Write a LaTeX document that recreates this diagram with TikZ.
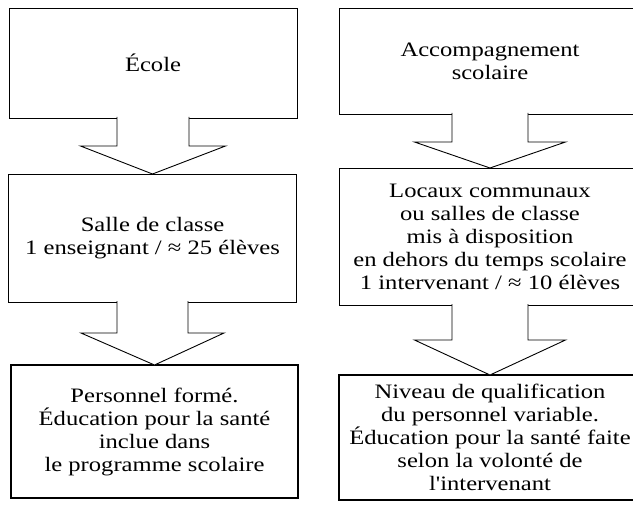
\documentclass[tikz,border=0pt]{standalone}
\usepackage{fontspec}
\setmainfont{Liberation Serif}[FakeStretch=1.2, Ligatures=TeXOff]
\usetikzlibrary{calc}
\tikzset{
  box/.style={draw, line width=0.9pt, inner sep=0pt, outer sep=0pt, align=center,
    font=\fontsize{20.5}{23}\selectfont},
  boxthick/.style={box, line width=1.4pt},
  arrowbody/.style={draw, fill=white, line width=0.9pt, line join=miter}
}
\newcommand{\blkarrow}[5]{%
  \filldraw[arrowbody] ($(#1.south)+(-#3,-1)$) -- ($(#1.south)+(-#3,#5)$)
    -- ($(#1.south)+(-#4,#5)$) -- (#2.north) -- ($(#1.south)+(#4,#5)$)
    -- ($(#1.south)+(#3,#5)$) -- ($(#1.south)+(#3,-1)$);}
\begin{document}
\begin{tikzpicture}[x=1pt,y=-1pt]
\useasboundingbox (0,0) rectangle (633,511);
\fill[white] (0,0) rectangle (633,511);
\clip (0,0) rectangle (633,511);
% left column
\node[box, minimum width=288pt, minimum height=110pt] (ecole) at (153,63) {École};
\node[box, minimum width=288pt, minimum height=128pt] (salle) at (152.5,238) {Salle de classe\\1 enseignant / ≈ 25 élèves};
\node[boxthick, minimum width=287pt, minimum height=133pt] (perso) at (154.5,431.5) {Personnel formé.\\Éducation pour la santé\\inclue dans\\le programme scolaire};
% right column
\node[box, minimum width=302pt, minimum height=106pt] (accomp) at (490,61) {Accompagnement\\scolaire};
\node[box, minimum width=302pt, minimum height=137pt] (locaux) at (490,236.5) {Locaux communaux\\ou salles de classe\\mis à disposition\\en dehors du temps scolaire\\1 intervenant / ≈ 10 élèves};
\node[boxthick, minimum width=302pt, minimum height=125pt] (niveau) at (490,437.5) {Niveau de qualification\\du personnel variable.\\Éducation pour la santé faite\\selon la volonté de\\l'intervenant};
% arrows
\blkarrow{ecole}{salle}{36}{72.5}{28}
\blkarrow{salle}{perso}{35.5}{71.5}{31}
\blkarrow{accomp}{locaux}{38}{75.5}{28}
\blkarrow{locaux}{niveau}{38}{75.5}{35}
\end{tikzpicture}
\end{document}
